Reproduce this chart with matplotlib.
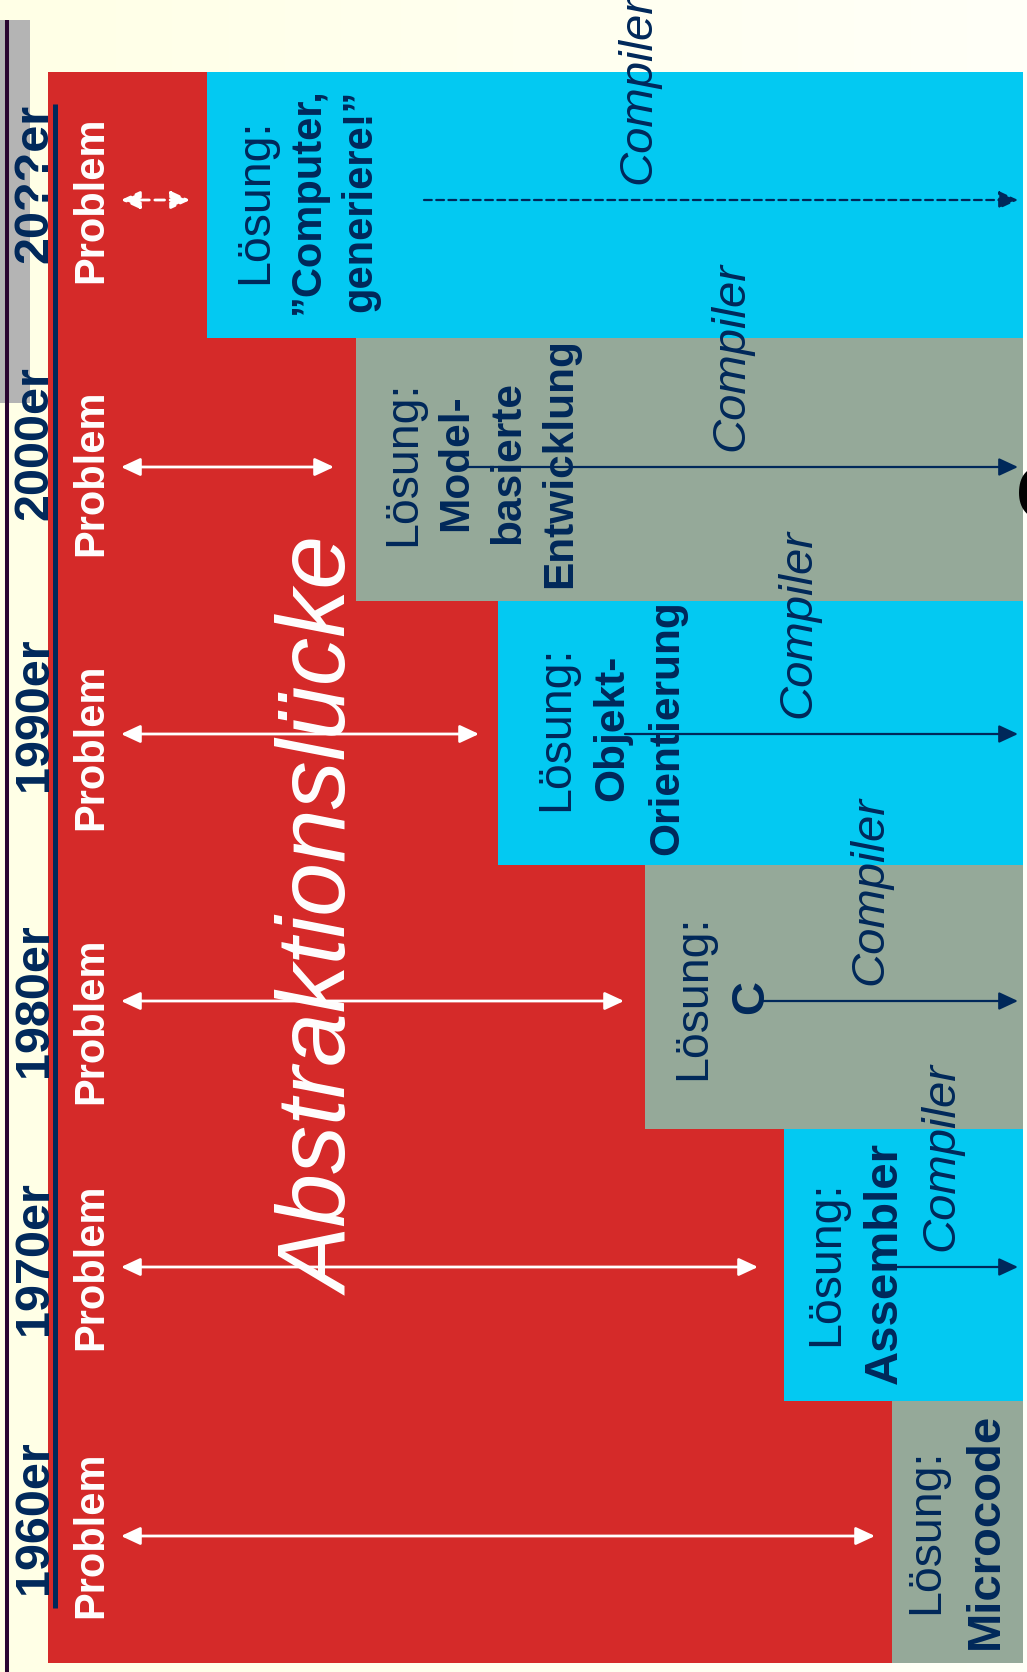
import numpy as np
import matplotlib
matplotlib.use("Agg")
import matplotlib.pyplot as plt
from matplotlib.patches import FancyArrowPatch

plt.rcParams['font.family'] = ['Liberation Sans', 'DejaVu Sans']

# --- content (pixel layout of the slide, y grows downwards) ---
decades = ['1960er', '1970er', '1980er', '1990er', '2000er', '20??er']
solutions = [['Microcode'], ['Assembler'], ['C'], ['Objekt-', 'Orientierung'],
             ['Model-', 'basierte', 'Entwicklung'], ['”Computer,', 'generiere!”']]
band_edges = [1663, 1401, 1129, 865, 601, 338, 72]
box_left = [892, 784, 645, 498, 356, 207]
arrow_y = [1536, 1267, 1001, 734, 467, 200]
problem_y = [1535, 1267, 1021, 747, 473, 200]
decade_y = [1517, 1258, 1000, 714, 443, 183]
gap_end = [875, 758, 624, 479, 334, 190]
compiler_x = [None, 953, 882, 810, 743, 650]
compiler_start = [None, 882, 762, 625, 467, 424]
sol_x0 = [938, 838, 705, 568, 415, 267]
sol_dx = [60, 59, 58, 55, 52, 52]
sol_y = [1531, 1263, 997, 728, 463, 201]
sol_size = [34, 34, 34, 30.5, 30.5, 30]

RED = '#D52A29'
CYAN = '#03C9F2'
GREY = '#95A999'
NAVY = '#00285A'
box_colors = [GREY, CYAN, GREY, CYAN, GREY, CYAN]
RIGHT = 1023

fig = plt.figure(figsize=(10.27, 16.72), dpi=100)
ax = fig.add_axes([0, 0, 1, 1])
ax.set_xlim(0, 1027)
ax.set_ylim(1672, 0)
ax.axis('off')

# background, ivory fading to white on the right
grad = np.linspace(0, 1, 256).reshape(1, -1)
bg = matplotlib.colors.LinearSegmentedColormap.from_list('bg', ['#FFFFE6', '#FFFFF8'])
ax.imshow(grad, extent=[0, 1027, 1672, 0], aspect='auto', cmap=bg, zorder=0)

# left timeline decoration
ax.barh((20 + 403) / 2, 30, left=0, height=403 - 20, color='#B4B4B4', zorder=1)
ax.plot([7, 7], [20, 1672], color='#2A0530', lw=2.9, solid_capstyle='butt', zorder=2)

# red problem area
ax.barh((72 + 1663) / 2, RIGHT - 48, left=48, height=1663 - 72, color=RED, zorder=1)
ax.plot([54.5, 54.5], [104, 1608], color=NAVY, lw=3.6, solid_capstyle='butt', zorder=3)

# solution boxes
for i in range(len(decades)):
    top, bottom = band_edges[i + 1], band_edges[i]
    ax.barh((top + bottom) / 2, RIGHT - box_left[i], left=box_left[i],
            height=bottom - top, color=box_colors[i], zorder=2)

style = '<|-|>,head_length=0.58,head_width=0.27'
for i, dec in enumerate(decades):
    dashed = dec.startswith('20?')
    ls = (0, (3.5, 2)) if dashed else '-'
    # decade label and "Problem"
    ax.text(47, decade_y[i], dec, rotation=90, rotation_mode='anchor',
            ha='center', va='baseline', fontsize=35, fontweight='bold',
            color=NAVY, zorder=5)
    ax.text(102, problem_y[i], 'Problem', rotation=90, rotation_mode='anchor',
            ha='center', va='baseline', fontsize=30, fontweight='bold',
            color='white', zorder=5)
    # abstraction gap arrow
    ax.add_patch(FancyArrowPatch((121, arrow_y[i]), (gap_end[i], arrow_y[i]),
                                 arrowstyle=style, mutation_scale=20, color='white',
                                 lw=2, linestyle=ls, shrinkA=0, shrinkB=0, zorder=4))
    # solution text
    for j, line in enumerate(['Lösung:'] + solutions[i]):
        ax.text(sol_x0[i] + j * sol_dx[i], sol_y[i], line, rotation=90,
                rotation_mode='anchor', ha='center', va='baseline',
                fontsize=33.5 if j == 0 else sol_size[i],
                fontweight='normal' if j == 0 else 'bold', color=NAVY, zorder=5)
    # compiler arrow
    if compiler_x[i] is not None:
        ax.add_patch(FancyArrowPatch((compiler_start[i], arrow_y[i]), (1018, arrow_y[i]),
                                     arrowstyle='-|>,head_length=0.58,head_width=0.27',
                                     mutation_scale=20, color=NAVY, lw=1.6, linestyle=ls,
                                     shrinkA=0, shrinkB=0, zorder=4))
        ax.text(compiler_x[i], arrow_y[i] - 16, 'Compiler', rotation=90,
                rotation_mode='anchor', ha='left', va='baseline', fontsize=34,
                style='italic', color=NAVY, zorder=5)

ax.text(350, 917, 'Abstraktionslücke', rotation=90, rotation_mode='anchor',
        ha='center', va='baseline', fontsize=69.5, style='italic',
        color='white', zorder=6)

# stray glyph cut at the right edge of the slide
ax.text(1089, 488, '?', rotation=90, rotation_mode='anchor', ha='center',
        va='baseline', fontsize=76, fontweight='bold', color='black', zorder=6)

fig.savefig('out.png', dpi=100)
